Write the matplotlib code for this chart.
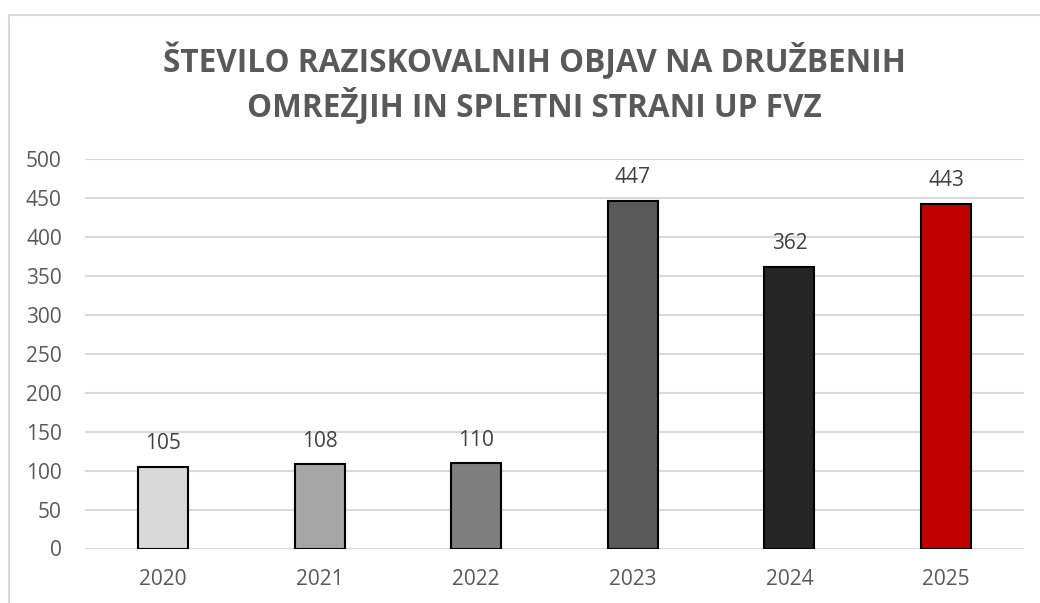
import matplotlib
matplotlib.use("Agg")
import matplotlib.pyplot as plt
from matplotlib.patches import Rectangle

years = ["2020", "2021", "2022", "2023", "2024", "2025"]
values = [105, 108, 110, 447, 362, 443]
bar_colors = ["#d9d9d9", "#a6a6a6", "#7f7f7f", "#595959", "#262626", "#c00000"]
yticks = [0, 50, 100, 150, 200, 250, 300, 350, 400, 450, 500]
title_lines = ["ŠTEVILO RAZISKOVALNIH OBJAV NA DRUŽBENIH",
               "OMREŽJIH IN SPLETNI STRANI UP FVZ"]

W, H = 1040, 603
fig = plt.figure(figsize=(W / 100, H / 100), dpi=100)
fig.patch.set_facecolor("white")

# chart border (extends beyond the right/bottom edge)
fig.patches.append(Rectangle((8.5 / W, -0.1), 1.2, (H - 15) / H + 0.1, transform=fig.transFigure,
                             fill=False, edgecolor="#d9d9d9", linewidth=1.5))

left, right, top, bottom = 84.7, 1024.3, 159.3, 548.5
ax = fig.add_axes([left / W, 1 - bottom / H, (right - left) / W, (bottom - top) / H])
x = list(range(len(years)))
ax.bar(x, values, width=0.32, color=bar_colors, edgecolor="black", linewidth=1.5, zorder=3)
for xi, v in zip(x, values):
    ax.annotate(str(v), (xi, v), xytext=(0, 12.5), textcoords="offset points",
                ha="center", va="baseline", fontsize=15, color="#404040", family="Open Sans")

ax.set_xlim(-0.5, len(years) - 0.5)
ax.set_ylim(0, 500)
ax.set_yticks(yticks)
ax.set_xticks(x)
ax.set_xticklabels(years)
ax.yaxis.grid(True, color="#d9d9d9", linewidth=1.5, zorder=0)
ax.set_axisbelow(True)
for s in ax.spines.values():
    s.set_visible(False)
ax.tick_params(axis="both", length=0, labelsize=15, labelcolor="#595959")
ax.tick_params(axis="x", pad=15)
ax.tick_params(axis="y", pad=16.5)
for lab in ax.get_xticklabels() + ax.get_yticklabels():
    lab.set_family("Open Sans")

for line, base in zip(title_lines, [72, 116]):
    fig.text(534 / W, 1 - base / H, line, ha="center", va="baseline", fontsize=22.7,
             fontweight="bold", color="#595959", family="Open Sans")

fig.savefig("out.png", dpi=100)
